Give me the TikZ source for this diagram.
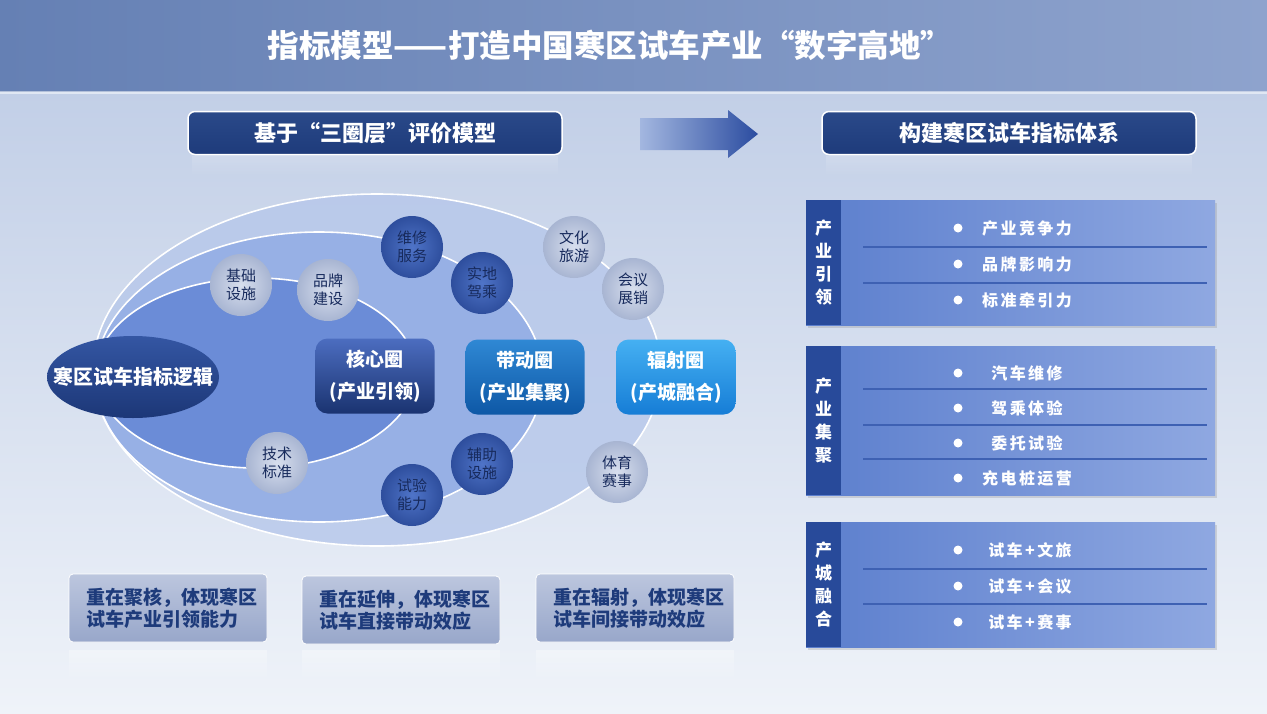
\documentclass[tikz,border=0pt]{standalone}
\usepackage{fontspec}
\setmainfont{Noto Sans CJK SC}
\newfontfamily\spaced[LetterSpace=15]{Noto Sans CJK SC}
\usetikzlibrary{positioning,shapes.geometric,shadows,fadings,calc}

\definecolor{bandL}{HTML}{6580B4}
\definecolor{bandR}{HTML}{8EA3CD}
\definecolor{skyT}{HTML}{C2CFE7}
\definecolor{skyB}{HTML}{EFF3F9}
\definecolor{navy}{HTML}{1E3B7B}
\definecolor{navyL}{HTML}{2A4989}
\definecolor{inkblue}{HTML}{172A5C}
\definecolor{ringout}{HTML}{B6C7EA}
\definecolor{ringmid}{HTML}{97B0E5}
\definecolor{ringin}{HTML}{6B8CD7}
\definecolor{logicT}{HTML}{3456A3}
\definecolor{logicB}{HTML}{1C3777}
\definecolor{coreT}{HTML}{4C6DC0}
\definecolor{coreB}{HTML}{1A3370}
\definecolor{driveT}{HTML}{2F88D4}
\definecolor{driveB}{HTML}{0E58A6}
\definecolor{radiT}{HTML}{45B0F2}
\definecolor{radiB}{HTML}{167DD6}
\definecolor{darkIn}{HTML}{4F74C8}
\definecolor{darkOut}{HTML}{2E4E9D}
\definecolor{lightIn}{HTML}{D8DFEE}
\definecolor{lightOut}{HTML}{A8B5D2}
\definecolor{noteT}{HTML}{BCC6DE}
\definecolor{noteB}{HTML}{98A7CA}
\definecolor{panL}{HTML}{5B7ECD}
\definecolor{panR}{HTML}{8FA8E1}
\definecolor{stripC}{HTML}{284A9A}
\definecolor{sepC}{HTML}{3E61B3}
\definecolor{arrL}{HTML}{A3B7E0}
\definecolor{arrR}{HTML}{2B4CA0}

\tikzfading[name=fadedown, top color=transparent!45, bottom color=transparent!100]

\begin{document}
\begin{tikzpicture}[x=1pt, y=-1pt,
    ttl/.style={text=white, font=\fontsize{31.5}{36}\selectfont\bfseries},
    hdr/.style={draw=white, line width=1.5pt, rounded corners=7pt, top color=navyL, bottom color=navy, minimum width=374pt, minimum height=43pt, text=white, font=\fontsize{22}{24}\selectfont\bfseries},
    logic/.style={ellipse, minimum width=172pt, minimum height=82pt, inner xsep=-20pt, inner ysep=0pt, top color=logicT, bottom color=logicB, text=white, font=\fontsize{20}{24}\selectfont\bfseries},
    ring/.style={rounded corners=12pt, minimum width=119pt, minimum height=75pt, align=center, text=white, font=\fontsize{19}{32}\selectfont\bfseries},
    ball/.style={circle, minimum size=62pt, inner sep=0pt, align=center, text=inkblue, font=\fontsize{15}{18}\selectfont},
    balldark/.style={ball, inner color=darkIn, outer color=darkOut},
    balllight/.style={ball, inner color=lightIn, outer color=lightOut},
    note/.style={draw=white!60, line width=0.8pt, rounded corners=4pt, minimum width=198pt, minimum height=68pt, top color=noteT, bottom color=noteB, align=left, text=navy, font=\fontsize{19}{22}\selectfont\bfseries},
    panel/.style={minimum width=409pt, left color=panL, right color=panR, drop shadow={shadow xshift=2pt, shadow yshift=-3pt, opacity=0.25}},
    strip/.style={anchor=north west, minimum width=35pt, fill=stripC, align=center, inner sep=0pt, text=white, font=\fontsize{17}{23}\selectfont\bfseries},
    bullet/.style={circle, fill=white, minimum size=9pt, inner sep=0pt},
    item/.style={text=white, font=\fontsize{16}{18}\spaced\bfseries},
    sep/.style={draw=sepC, line width=1.2pt}
]
\useasboundingbox (0,0) rectangle (1267,713);

% background
\shade[top color=skyT, bottom color=skyB] (0,92) rectangle (1267,713);
\shade[left color=bandL, right color=bandR] (0,0) rectangle (1267,91);
\fill[white, opacity=0.5] (0,91) rectangle (1267,94);

\node[ttl] (title) at (610,45) {指标模型——打造中国寒区试车产业“数字高地”};

% headers
\fill[white, opacity=0.3, path fading=fadedown] (192,156) rectangle (558,176);
\fill[white, opacity=0.3, path fading=fadedown] (826,156) rectangle (1192,176);
\node[hdr] (hdrL) at (375,133) {基于“三圈层”评价模型};
\node[hdr] (hdrR) at (1009,133) {构建寒区试车指标体系};
\shade[left color=arrL, right color=arrR] (640,118) -- (728,118) -- (728,110) -- (758,134) -- (728,158) -- (728,150) -- (640,150) -- cycle;

% three circles
\filldraw[draw=white, line width=1.6pt, fill=ringout, fill opacity=0.8] (377,370) ellipse [x radius=284, y radius=176];
\filldraw[draw=white, line width=1.6pt, fill=ringmid] (319,377) ellipse [x radius=224, y radius=145];
\filldraw[draw=white, line width=1.6pt, fill=ringin] (256,373) ellipse [x radius=160, y radius=95];

\node[logic] (logic) at (133,377) {寒区试车指标逻辑};
\node[ring, top color=coreT, bottom color=coreB] (core) at (375,376) {核心圈\\(产业引领)};
\node[ring, top color=driveT, bottom color=driveB] (drive) at (525,377) {带动圈\\(产业集聚)};
\node[ring, top color=radiT, bottom color=radiB] (radi) at (676,377) {辐射圈\\(产城融合)};

\node[balllight] (infra) at (241,285) {基础\\设施};
\node[balllight] (brand) at (328,290) {品牌\\建设};
\node[balldark] (repair) at (412,247) {维修\\服务};
\node[balldark] (drivex) at (482,283) {实地\\驾乘};
\node[balllight] (tour) at (574,247) {文化\\旅游};
\node[balllight] (expo) at (633,289) {会议\\展销};
\node[balllight] (tech) at (277,463) {技术\\标准};
\node[balldark] (test) at (412,495) {试验\\能力};
\node[balldark] (aux) at (482,464) {辅助\\设施};
\node[balllight] (sport) at (617,472) {体育\\赛事};

% notes
\foreach \n/\x in {noteA/168, noteB/401, noteC/635} {
  \fill[white, opacity=0.6, path fading=fadedown] (\x-99,650) rectangle (\x+99,682);
}
\node[note, inner xsep=-2pt] (noteA) at (168,608) {\hspace*{7pt}重在聚核，体现寒区\\\hspace*{7pt}试车产业引领能力};
\node[note, inner xsep=-2pt] (noteB) at (401,610) {\hspace*{7pt}重在延伸，体现寒区\\\hspace*{7pt}试车直接带动效应};
\node[note, inner xsep=-2pt] (noteC) at (635,608) {\hspace*{7pt}重在辐射，体现寒区\\\hspace*{7pt}试车间接带动效应};

% index panels
\node[panel, minimum height=125pt] (panA) at (1010.5,262.5) {};
\node[strip, minimum height=125pt] (stripA) at (panA.north west) {产\\业\\引\\领};
\foreach \t [count=\i] in {产业竞争力,品牌影响力,标准牵引力} {
  \node[bullet] (dotA\i) at (958,192+36*\i) {};
  \node[item] (itemA\i) at (1027,192+36*\i) {\t};
}
\draw[sep] (863,247) -- (1207,247);
\draw[sep] (863,283) -- (1207,283);

\node[panel, minimum height=149pt] (panB) at (1010.5,420.5) {};
\node[strip, minimum height=149pt] (stripB) at (panB.north west) {产\\业\\集\\聚};
\foreach \t [count=\i] in {汽车维修,驾乘体验,委托试验,充电桩运营} {
  \node[bullet] (dotB\i) at (958,338+35*\i) {};
  \node[item] (itemB\i) at (1027,338+35*\i) {\t};
}
\draw[sep] (863,389) -- (1207,389);
\draw[sep] (863,425) -- (1207,425);
\draw[sep] (863,459) -- (1207,459);

\node[panel, minimum height=125pt] (panC) at (1010.5,584.5) {};
\node[strip, minimum height=125pt] (stripC) at (panC.north west) {产\\城\\融\\合};
\foreach \t [count=\i] in {试车+文旅,试车+会议,试车+赛事} {
  \node[bullet] (dotC\i) at (958,514+36*\i) {};
  \node[item] (itemC\i) at (1030,514+36*\i) {\t};
}
\draw[sep] (863,569) -- (1207,569);
\draw[sep] (863,604) -- (1207,604);
\end{tikzpicture}
\end{document}
